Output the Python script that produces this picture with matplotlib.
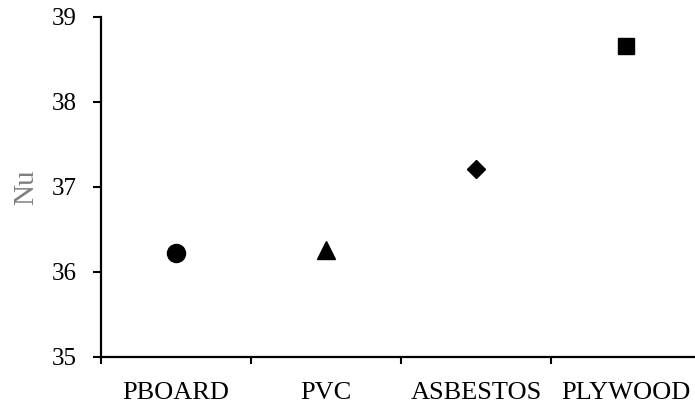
import matplotlib
matplotlib.use("Agg")
import matplotlib.pyplot as plt

materials = ["PBOARD", "PVC", "ASBESTOS", "PLYWOOD"]
nu_values = [36.22, 36.26, 37.21, 38.66]
markers = ["o", "^", "D", "s"]
marker_sizes = [13, 13, 9.3, 11.3]
y_ticks = [35, 36, 37, 38, 39]

plt.rcParams["font.family"] = ["Liberation Serif", "DejaVu Serif"]

fig = plt.figure(figsize=(6.95, 4.04), dpi=100)
ax = fig.add_axes([0.1453, 0.117, 0.8633, 0.8416])

positions = list(range(1, len(materials) + 1))
for x, y, m, s in zip(positions, nu_values, markers, marker_sizes):
    ax.plot([x], [y], linestyle="none", marker=m, markersize=s, color="black")

ax.set_xlim(0.5, len(materials) + 0.5)
ax.set_ylim(y_ticks[0], y_ticks[-1])

# Category boundaries carry the tick marks, labels sit between them
ax.set_xticks([p - 0.5 for p in positions] + [positions[-1] + 0.5])
ax.set_xticklabels([])
ax.set_xticks(positions, minor=True)
ax.set_xticklabels(materials, minor=True, fontsize=19)
ax.tick_params(axis="x", which="major", direction="out", length=5, width=1.5)
ax.tick_params(axis="x", which="minor", length=0, pad=18)

ax.set_yticks(y_ticks)
ax.set_yticklabels([str(v) for v in y_ticks], fontsize=18)
ax.tick_params(axis="y", direction="out", length=5.5, width=1.5, pad=12)

for side in ("top", "right"):
    ax.spines[side].set_visible(False)
for side in ("left", "bottom"):
    ax.spines[side].set_linewidth(1.6)

ax.set_ylabel("Nu", fontsize=21, color="#7f7f7f")
ax.yaxis.set_label_coords(-0.103, 0.5)

fig.savefig("out.png", dpi=100)
